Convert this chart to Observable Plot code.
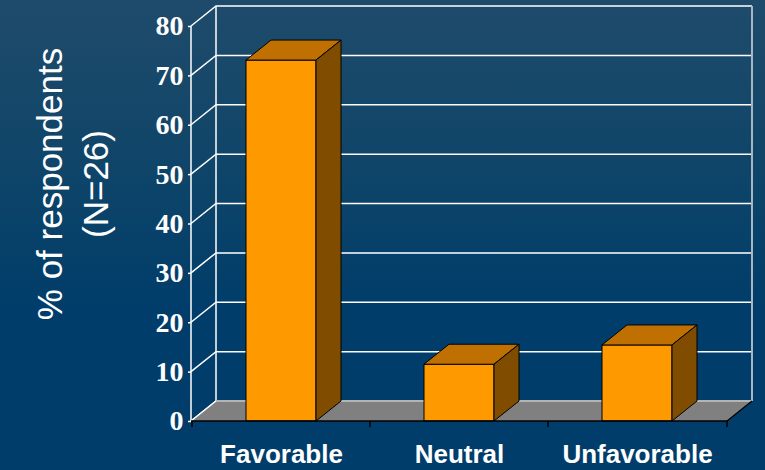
<!DOCTYPE html>
<html>
<head>
<meta charset="utf-8">
<script src="https://cdn.jsdelivr.net/npm/d3@7"></script>
<script src="https://cdn.jsdelivr.net/npm/@observablehq/plot@0.6"></script>
<style>
  html, body { margin: 0; padding: 0; }
  body {
    width: 765px; height: 470px; overflow: hidden;
    background: linear-gradient(to bottom, #1f4b6b 0%, #0f4569 35%, #003d6a 66%, #003d6a 100%);
  }
</style>
</head>
<body>
<div id="chart"></div>
<script>
// ---- data ----
const categories = ["Favorable", "Neutral", "Unfavorable"];
const percents = [73.1, 11.5, 15.4];
const yTicks = [0, 10, 20, 30, 40, 50, 60, 70, 80];
const yTitle = "% of respondents\n(N=26)";

const data = categories.map((c, i) => ({category: c, value: percents[i]}));

// ---- 3D styling constants ----
const DX = 25, DY = -20;          // depth offset (pixels)
const BAR_INSET = 54;             // band inset for bars
const FRONT = "#ff9900", TOP = "#c07000", SIDE = "#7f4c00";

function walls(index, scales, values, dims) {
  const {x, y} = scales;
  const x0 = dims.marginLeft, x1 = dims.width - dims.marginRight;
  const y0 = y(0), yMax = y(yTicks[yTicks.length - 1]);
  const g = d3.create("svg:g");
  for (const t of yTicks) {
    const yy = y(t);
    g.append("path")
      .attr("d", `M${x0},${yy}L${x0 + DX},${yy + DY}` + (t === 0 ? "" : `L${x1 + DX},${yy + DY}`))
      .attr("fill", "none").attr("stroke", "white").attr("stroke-width", 1.5);
  }
  g.append("line").attr("x1", x0 + DX).attr("x2", x0 + DX).attr("y1", y0 + DY).attr("y2", yMax + DY)
    .attr("stroke", "white").attr("stroke-width", 1.5);
  g.append("line").attr("x1", x1 + DX).attr("x2", x1 + DX).attr("y1", y0 + DY).attr("y2", yMax + DY)
    .attr("stroke", "#a8b6c3").attr("stroke-width", 2);
  g.append("path")
    .attr("d", `M${x0},${y0}L${x1},${y0}L${x1 + DX},${y0 + DY}L${x0 + DX},${y0 + DY}Z`)
    .attr("fill", "#808080");
  g.append("line").attr("x1", x0 + DX).attr("x2", x1 + DX).attr("y1", y0 + DY).attr("y2", y0 + DY)
    .attr("stroke", "#b4b4b4").attr("stroke-width", 2);
  g.append("line").attr("x1", x0).attr("x2", x0 + DX).attr("y1", y0).attr("y2", y0 + DY)
    .attr("stroke", "white").attr("stroke-width", 1.5);
  g.append("line").attr("x1", x1).attr("x2", x1 + DX).attr("y1", y0).attr("y2", y0 + DY)
    .attr("stroke", "black").attr("stroke-width", 1.2);
  g.append("line").attr("x1", x0).attr("x2", x0).attr("y1", y0).attr("y2", yMax)
    .attr("stroke", "white").attr("stroke-width", 1.5);
  return g.node();
}

function barSides(index, scales, values, dims) {
  const {x, y} = scales;
  const bw = x.bandwidth();
  const y0 = y(0);
  const g = d3.create("svg:g").attr("stroke", "black").attr("stroke-width", 1).attr("stroke-linejoin", "round");
  for (const d of data) {
    const xl = x(d.category) + BAR_INSET, xr = x(d.category) + bw - BAR_INSET, yv = y(d.value);
    g.append("path")
      .attr("d", `M${xl},${yv}L${xr},${yv}L${xr + DX},${yv + DY}L${xl + DX},${yv + DY}Z`)
      .attr("fill", TOP);
    g.append("path")
      .attr("d", `M${xr},${yv}L${xr + DX},${yv + DY}L${xr + DX},${y0 + DY}L${xr},${y0}Z`)
      .attr("fill", SIDE);
  }
  return g.node();
}

function xAxisLine(index, scales, values, dims) {
  const {x, y} = scales;
  const x0 = dims.marginLeft, x1 = dims.width - dims.marginRight;
  const y0 = y(0);
  const g = d3.create("svg:g").attr("stroke", "black").attr("stroke-width", 1.5);
  g.append("line").attr("x1", x0).attr("x2", x1).attr("y1", y0).attr("y2", y0);
  const bounds = x.domain().map(c => x(c)).concat([x1]);
  for (const b of bounds) {
    if (b === x0) continue;
    g.append("line").attr("x1", b).attr("x2", b).attr("y1", y0).attr("y2", y0 + 6);
  }
  return g.node();
}

const chart = Plot.plot({
  width: 765,
  height: 470,
  marginLeft: 191,
  marginRight: 38,
  marginTop: 26,
  marginBottom: 49,
  style: {background: "transparent", color: "white", overflow: "visible"},
  x: {domain: categories, padding: 0, label: null},
  y: {domain: [0, 80], label: null},
  marks: [
    walls,
    Plot.barY(data, {x: "category", y: "value", fill: FRONT, stroke: "black", strokeWidth: 1,
      insetLeft: BAR_INSET, insetRight: BAR_INSET}),
    barSides,
    xAxisLine,
    Plot.axisY(yTicks, {tickSize: 3, tickPadding: 5, stroke: "white", strokeWidth: 1.5,
      fontSize: 28, fontFamily: "Liberation Serif", fontWeight: "bold", letterSpacing: -1, label: null}),
    Plot.axisX({tickSize: 0, tickPadding: 23, fontSize: 26, fontFamily: "Liberation Sans",
      fontWeight: "bold", label: null}),
    Plot.text([yTitle], {frameAnchor: "left", textAnchor: "middle", dx: -121, dy: -40, rotate: -90,
      fontSize: 35, fontFamily: "Liberation Sans", lineHeight: 1.29, lineAnchor: "middle",
      fill: "white"})
  ]
});
document.getElementById("chart").appendChild(chart);
</script>
</body>
</html>
